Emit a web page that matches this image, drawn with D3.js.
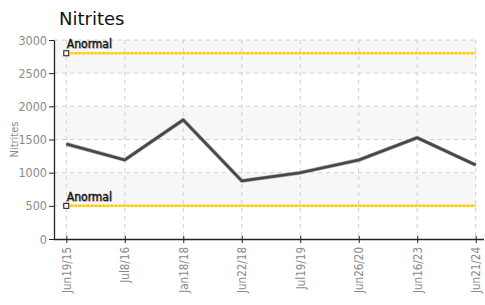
<!DOCTYPE html>
<html>
<head>
<meta charset="utf-8">
<script src="https://cdn.jsdelivr.net/npm/d3@7"></script>
<style>
  body { margin: 0; background: #fff; }
  svg { display: block; }
</style>
</head>
<body>
<script>
// data
const dates = ["Jun19/15", "Jul8/16", "Jan18/18", "Jun22/18", "Jul19/19", "Jun26/20", "Jun16/23", "Jun21/24"];
const nitrites = [1432, 1192, 1795, 876, 1000, 1190, 1527, 1116];
const limits = [2800, 500];
const limitLabels = ["Anormal", "Anormal"];
const yTicks = [0, 500, 1000, 1500, 2000, 2500, 3000];

const W = 485, H = 305;
const mLeft = 54, mRight = 476, mTop = 40, mBottom = 239;
const axisEnd = 484;
const narrow = "'DejaVu Sans Condensed', 'Liberation Sans Narrow', sans-serif";

const svg = d3.select("body").append("svg")
  .attr("width", W)
  .attr("height", H);

const x = d3.scalePoint()
  .domain(dates)
  .range([66.3, 475.7]);

const y = d3.scaleLinear()
  .domain([0, 3000])
  .range([mBottom, mTop]);

// alternating bands
const bands = [[500, 1000], [1500, 2000], [2500, 3000]];
svg.selectAll("rect.band")
  .data(bands)
  .enter().append("rect")
  .attr("x", mLeft)
  .attr("width", mRight - mLeft)
  .attr("y", d => y(d[1]))
  .attr("height", d => y(d[0]) - y(d[1]))
  .attr("fill", "#f7f7f7");

// grid
svg.append("g")
  .selectAll("line")
  .data(yTicks.slice(1))
  .enter().append("line")
  .attr("x1", mLeft).attr("x2", mRight)
  .attr("y1", d => y(d)).attr("y2", d => y(d))
  .attr("stroke", "#d0d0d0")
  .attr("stroke-dasharray", "4,4");

svg.append("g")
  .selectAll("line")
  .data(dates)
  .enter().append("line")
  .attr("x1", d => x(d)).attr("x2", d => x(d))
  .attr("y1", mTop).attr("y2", mBottom)
  .attr("stroke", "#d0d0d0")
  .attr("stroke-dasharray", "4,4");

// axes
const yAxis = svg.append("g")
  .attr("transform", `translate(${mLeft},0)`)
  .call(d3.axisLeft(y).tickValues(yTicks).tickFormat(d3.format("d")).tickSize(5).tickPadding(2).tickSizeOuter(0));
yAxis.select(".domain").attr("stroke", "#222").attr("stroke-width", 1.3);
yAxis.selectAll(".tick line").attr("stroke", "#222");
yAxis.selectAll("text")
  .attr("fill", "#8a8a8a")
  .style("font-family", narrow)
  .style("font-size", "12.5px");

const xAxis = svg.append("g")
  .attr("transform", `translate(0,${mBottom})`)
  .call(d3.axisBottom(x).tickSize(4).tickSizeOuter(0));
xAxis.select(".domain")
  .attr("d", `M${mLeft},0.5H${axisEnd}`)
  .attr("stroke", "#222").attr("stroke-width", 1.3);
xAxis.selectAll(".tick line").attr("y1", -3).attr("y2", 4).attr("stroke", "#222");
xAxis.selectAll("text")
  .attr("fill", "#8a8a8a")
  .style("font-family", narrow)
  .style("font-size", "11.5px")
  .attr("transform", "rotate(-90)")
  .attr("text-anchor", "end")
  .attr("x", -8)
  .attr("y", 0)
  .attr("dy", "0.35em");

// y title
svg.append("text")
  .attr("transform", `translate(14.5,${(mTop + mBottom) / 2}) rotate(-90)`)
  .attr("text-anchor", "middle")
  .attr("dy", "0.35em")
  .attr("fill", "#8a8a8a")
  .style("font-family", narrow)
  .style("font-size", "11px")
  .text("Nitrites");

// limit lines
limits.forEach((v, i) => {
  svg.append("line")
    .attr("x1", x(dates[0])).attr("x2", x(dates[dates.length - 1]))
    .attr("y1", y(v)).attr("y2", y(v))
    .attr("stroke", "#ffc800")
    .attr("stroke-width", 2.5)
    .attr("stroke-dasharray", "3,1");
  svg.append("rect")
    .attr("x", x(dates[0]) - 2.5).attr("y", y(v) - 2.5)
    .attr("width", 5).attr("height", 5)
    .attr("fill", "#fff").attr("stroke", "#111").attr("stroke-width", 1);
  svg.append("text")
    .attr("x", x(dates[0]) + 1.5).attr("y", y(v) - 4)
    .attr("fill", "#bbb")
    .style("font-family", narrow)
    .style("font-size", "12px")
    .text(limitLabels[i]);
  svg.append("text")
    .attr("x", x(dates[0]) + 0.5).attr("y", y(v) - 5)
    .attr("fill", "#111")
    .attr("stroke", "#111")
    .attr("stroke-width", 0.35)
    .style("font-family", narrow)
    .style("font-size", "12px")
    .text(limitLabels[i]);
});

// series line
const line = d3.line()
  .x((d, i) => x(dates[i]))
  .y(d => y(d));

svg.append("path")
  .datum(nitrites)
  .attr("fill", "none")
  .attr("stroke", "#aaa")
  .attr("stroke-width", 4)
  .attr("stroke-linejoin", "round")
  .attr("d", line);
svg.append("path")
  .datum(nitrites)
  .attr("fill", "none")
  .attr("stroke", "#474747")
  .attr("stroke-width", 2.6)
  .attr("stroke-linejoin", "round")
  .attr("d", line);

// title
svg.append("text")
  .attr("x", 59).attr("y", 25)
  .attr("fill", "#111")
  .style("font-family", "'DejaVu Sans', sans-serif")
  .style("font-size", "18px")
  .text("Nitrites");
</script>
</body>
</html>
